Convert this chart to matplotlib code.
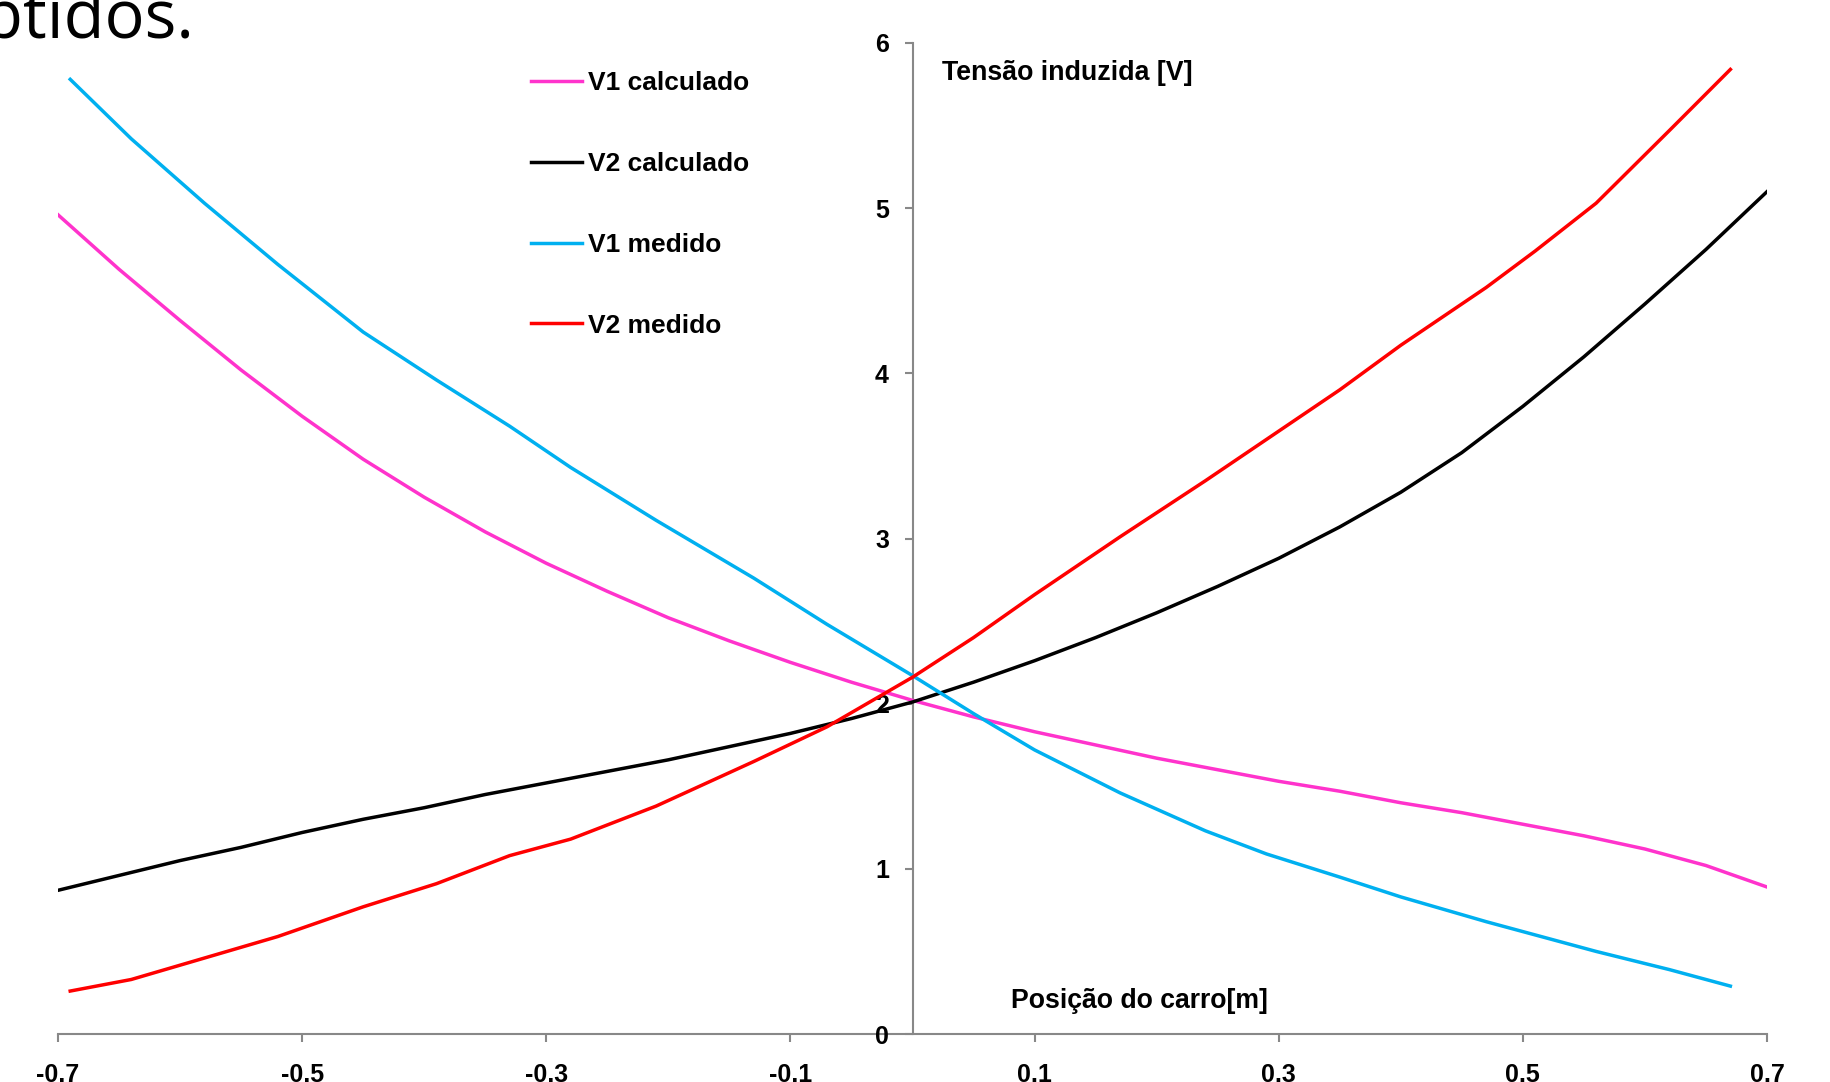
import matplotlib
matplotlib.use("Agg")
import matplotlib.pyplot as plt

# calculated curves (step 0.05)
x_calc = [-0.70, -0.65, -0.60, -0.55, -0.50, -0.45, -0.40, -0.35, -0.30, -0.25,
          -0.20, -0.15, -0.10, -0.05, 0.00, 0.05, 0.10, 0.15, 0.20, 0.25,
          0.30, 0.35, 0.40, 0.45, 0.50, 0.55, 0.60, 0.65, 0.70]
v1_calc = [4.96, 4.63, 4.32, 4.02, 3.74, 3.48, 3.25, 3.04, 2.85, 2.68,
           2.52, 2.38, 2.25, 2.13, 2.02, 1.92, 1.83, 1.75, 1.67, 1.60,
           1.53, 1.47, 1.40, 1.34, 1.27, 1.20, 1.12, 1.02, 0.89]
v2_calc = [0.87, 0.96, 1.05, 1.13, 1.22, 1.30, 1.37, 1.45, 1.52, 1.59,
           1.66, 1.74, 1.82, 1.91, 2.01, 2.13, 2.26, 2.40, 2.55, 2.71,
           2.88, 3.07, 3.28, 3.52, 3.80, 4.10, 4.42, 4.75, 5.10]

# measured curves
x_med = [-0.69, -0.64, -0.58, -0.52, -0.45, -0.39, -0.33, -0.28, -0.21, -0.13,
         -0.07, 0.00, 0.05, 0.10, 0.17, 0.24, 0.29, 0.35, 0.40, 0.47,
         0.51, 0.56, 0.62, 0.67]
v1_med = [5.78, 5.42, 5.03, 4.66, 4.25, 3.96, 3.68, 3.43, 3.11, 2.76,
          2.48, 2.17, 1.94, 1.72, 1.46, 1.23, 1.09, 0.95, 0.83, 0.68,
          0.60, 0.50, 0.39, 0.29]
v2_med = [0.26, 0.33, 0.46, 0.59, 0.77, 0.91, 1.08, 1.18, 1.38, 1.65,
          1.86, 2.16, 2.40, 2.66, 3.01, 3.35, 3.60, 3.90, 4.17, 4.52,
          4.74, 5.03, 5.47, 5.84]

x_ticks = [-0.7, -0.5, -0.3, -0.1, 0.1, 0.3, 0.5, 0.7]
x_ticklabels = ["-0.7", "-0.5", "-0.3", "-0.1", "0.1", "0.3", "0.5", "0.7"]
y_ticks = [0, 1, 2, 3, 4, 5, 6]

plt.rcParams['font.family'] = ['Liberation Sans', 'DejaVu Sans']

W, H = 1830, 1082
fig = plt.figure(figsize=(W / 100, H / 100), dpi=100)
ax = fig.add_axes([58 / W, 48 / H, (1767 - 58) / W, (1034 - 43) / H])

lw = 2.5
ax.plot(x_calc, v1_calc, color="#FF33CC", lw=lw, label="V1 calculado")
ax.plot(x_calc, v2_calc, color="black", lw=lw, label="V2 calculado")
ax.plot(x_med, v1_med, color="#00B0F0", lw=lw, label="V1 medido")
ax.plot(x_med, v2_med, color="#FF0000", lw=lw, label="V2 medido")

ax.set_xlim(-0.7, 0.7)
ax.set_ylim(0, 6)
for s in ["top", "right"]:
    ax.spines[s].set_visible(False)
ax.spines["left"].set_position(("data", 0))
for s in ["left", "bottom"]:
    ax.spines[s].set_color("#888888")
    ax.spines[s].set_linewidth(1.5)
    ax.spines[s].set_zorder(0)

ax.set_xticks(x_ticks)
ax.set_xticklabels(x_ticklabels)
ax.set_yticks(y_ticks)
ax.tick_params(axis="x", direction="out", length=6, width=1.5, color="#888888",
               pad=15, labelsize=18)
ax.tick_params(axis="y", direction="out", length=6, width=1.5, color="#888888",
               pad=11, labelsize=18)
for lab in ax.get_xticklabels() + ax.get_yticklabels():
    lab.set_fontweight("bold")

ax.legend(loc="upper left", bbox_to_anchor=(531 / W, 1 - 71.5 / H),
          bbox_transform=fig.transFigure, frameon=False,
          prop={"weight": "bold", "size": 19}, handlelength=1.95,
          handletextpad=0.2, labelspacing=2.15, borderpad=0, borderaxespad=0)

fig.text(942 / W, 1 - 73.5 / H, "Tensão induzida [V]", fontsize=19.3,
         fontweight="bold", ha="left", va="center")
fig.text(1011 / W, 1 - 1000.5 / H, "Posição do carro[m]", fontsize=19.2,
         fontweight="bold", ha="left", va="center")
fig.text(194 / W, 1 - 38.5 / H, "obtidos.", fontsize=48,
         family=["Open Sans", "DejaVu Sans"], ha="right", va="baseline")

fig.savefig("out.png", dpi=100)
